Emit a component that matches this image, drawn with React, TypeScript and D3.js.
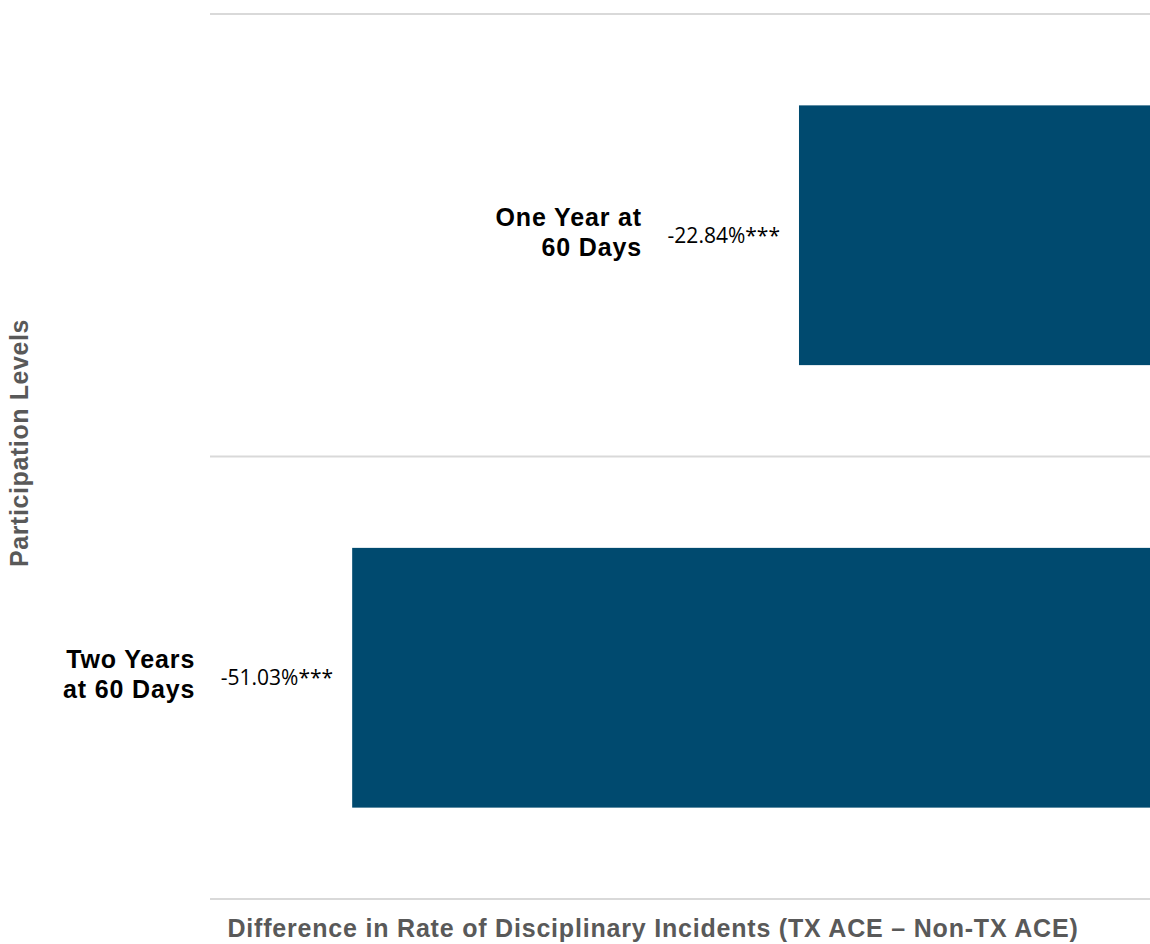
import React from "react";
import * as d3 from "d3";

const categories: string[] = ["One Year at 60 Days", "Two Years at 60 Days"];
const categoryLines: string[][] = [["One Year at", "60 Days"], ["Two Years", "at 60 Days"]];
const values: number[] = [-22.84, -51.03];
const valueLabels: string[] = ["-22.84%***", "-51.03%***"];
const xDomain: [number, number] = [-60, 0];
const xTitle = "Difference in Rate of Disciplinary Incidents (TX ACE \u2013 Non-TX ACE)";
const yTitle = "Participation Levels";

const W = 1150;
const H = 944;
const BAR = "#004a6f";
const GRID = "#d9d9d9";
const TITLE = "#595959";
const BOLD_FONT = "'Liberation Sans', Arial, sans-serif";

export default function App() {
  const x = d3.scaleLinear().domain(xDomain).range([210, 1161]);
  const y = d3
    .scaleBand<string>()
    .domain(categories)
    .range([14, 899])
    .paddingInner(0.413)
    .paddingOuter(0.2065);
  const step = y.step();
  const bw = y.bandwidth();
  const gridYs = categories.map((c) => (y(c) as number) - (step - bw) / 2);
  gridYs.push(899);

  return (
    <svg
      width={W}
      height={H}
      style={{ position: "absolute", left: 0, top: 0 }}
      xmlns="http://www.w3.org/2000/svg"
    >
      <rect x={0} y={0} width={W} height={H} fill="#fff" />
      {gridYs.map((gy, i) => (
        <line key={i} x1={x(xDomain[0])} x2={x(xDomain[1])} y1={gy} y2={gy} stroke={GRID} strokeWidth={2} />
      ))}
      {categories.map((c, i) => {
        const v = values[i];
        const x0 = x(Math.min(v, 0));
        const x1 = x(Math.max(v, 0));
        const yc = (y(c) as number) + bw / 2;
        return (
          <g key={c}>
            <rect x={x0} y={y(c)} width={x1 - x0} height={bw} fill={BAR} />
            <text
              x={x0 - 19}
              y={yc + 7.5}
              textAnchor="end"
              fontFamily="'Open Sans', sans-serif"
              fontSize={21}
              fill="#000"
            >
              {valueLabels[i]}
            </text>
            <text
              textAnchor="end"
              fontFamily={BOLD_FONT}
              fontWeight="bold"
              fontSize={25}
              letterSpacing={0.85}
              fill="#000"
            >
              {categoryLines[i].map((ln, j) => (
                <tspan key={j} x={x0 - 157} y={yc - 9.5 + j * 30}>
                  {ln}
                </tspan>
              ))}
            </text>
          </g>
        );
      })}
      <text
        transform="translate(28,443) rotate(-90)"
        textAnchor="middle"
        fontFamily={BOLD_FONT}
        fontWeight="bold"
        fontSize={25}
        letterSpacing={0.6}
        fill={TITLE}
      >
        {yTitle}
      </text>
      <text
        x={653}
        y={937}
        textAnchor="middle"
        fontFamily={BOLD_FONT}
        fontWeight="bold"
        fontSize={25}
        letterSpacing={0.8}
        fill={TITLE}
      >
        {xTitle}
      </text>
    </svg>
  );
}
